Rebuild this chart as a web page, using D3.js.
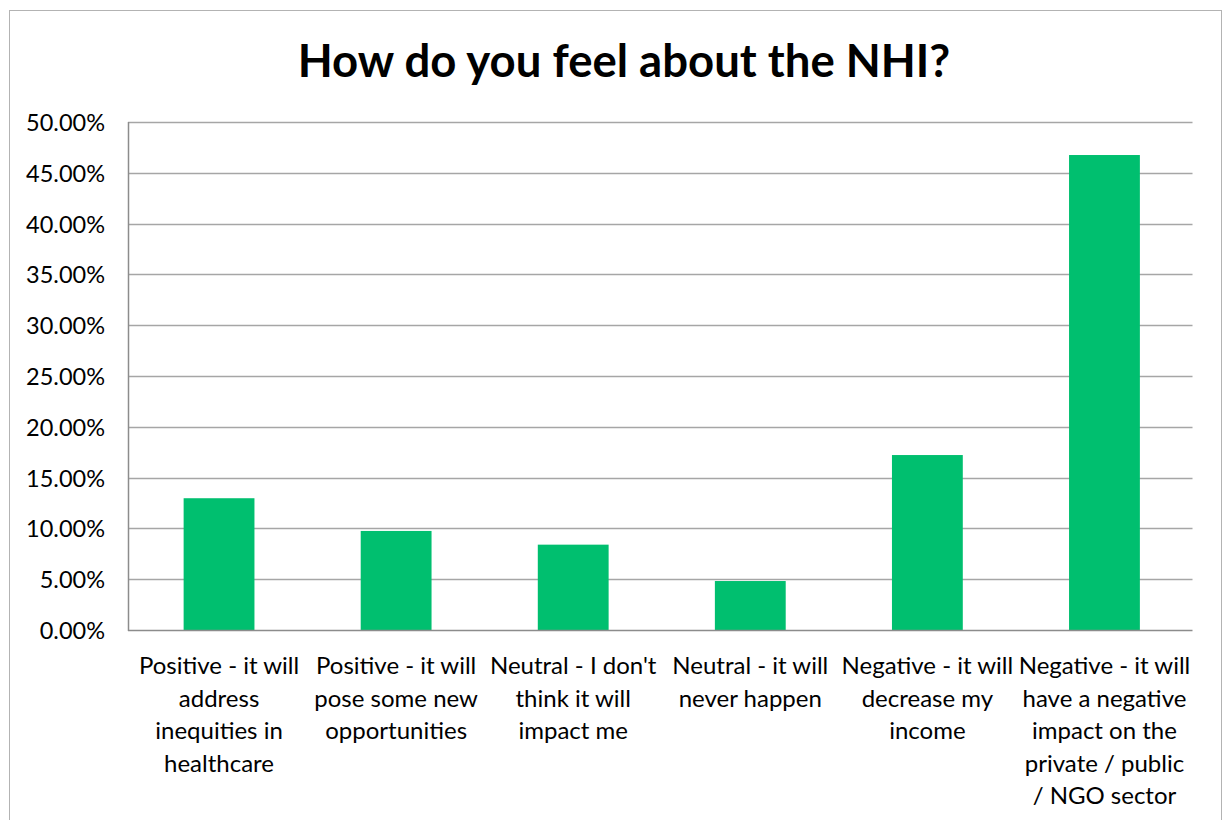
<!DOCTYPE html>
<html>
<head>
<meta charset="utf-8">
<script src="https://cdn.jsdelivr.net/npm/d3@7"></script>
<style>
  html, body { margin: 0; padding: 0; background: #fff; }
  svg { display: block; }
</style>
</head>
<body>
<svg id="chart" width="1224" height="820"></svg>
<script>
// ---- data ----
const title = "How do you feel about the NHI?";
const categories = [
  "Positive - it will\naddress\ninequities in\nhealthcare",
  "Positive - it will\npose some new\nopportunities",
  "Neutral - I don't\nthink it will\nimpact me",
  "Neutral - it will\nnever happen",
  "Negative - it will\ndecrease my\nincome",
  "Negative - it will\nhave a negative\nimpact on the\nprivate / public\n/ NGO sector"
];
const values = [0.1297, 0.0975, 0.0840, 0.0482, 0.1722, 0.4675];
const yTicks = [0, 0.05, 0.10, 0.15, 0.20, 0.25, 0.30, 0.35, 0.40, 0.45, 0.50];

// ---- layout ----
const plot = { left: 128, right: 1192.5, top: 122, bottom: 630 };
const band = { left: 130.5, right: 1193 };
const font = "Lato, 'Open Sans', sans-serif";

const svg = d3.select("#chart");

// outer chart border
svg.append("rect")
  .attr("x", 9.5).attr("y", 10.5)
  .attr("width", 1212).attr("height", 830)
  .attr("fill", "#fff").attr("stroke", "#b3b3b3").attr("stroke-width", 1);

const x = d3.scaleBand()
  .domain(d3.range(categories.length))
  .range([band.left, band.right])
  .paddingInner(0.6).paddingOuter(0.3);

const y = d3.scaleLinear().domain([0, 0.5]).range([plot.bottom, plot.top]);

// gridlines
svg.append("g")
  .selectAll("line")
  .data(yTicks.filter(d => d > 0))
  .join("line")
  .attr("x1", plot.left).attr("x2", plot.right)
  .attr("y1", d => Math.round(y(d)) + 0.5).attr("y2", d => Math.round(y(d)) + 0.5)
  .attr("stroke", "#a6a6a6").attr("stroke-width", 1.5);

// y axis labels
const yAxis = d3.axisLeft(y).tickValues(yTicks)
  .tickFormat(d => (d * 100).toFixed(2) + "%")
  .tickSize(0).tickPadding(23);
const gy = svg.append("g").attr("transform", `translate(${plot.left},0)`).call(yAxis);
gy.select(".domain").remove();
gy.selectAll("text")
  .attr("font-family", font).attr("font-size", 23.5).attr("fill", "#000")
  .attr("dy", "0.36em");

// bars
svg.append("g")
  .selectAll("rect")
  .data(values)
  .join("rect")
  .attr("x", (d, i) => x(i))
  .attr("width", x.bandwidth())
  .attr("y", d => y(d))
  .attr("height", d => y(0) - y(d))
  .attr("fill", "#00bf6f");

// axis lines
svg.append("line")
  .attr("x1", plot.left + 0.5).attr("x2", plot.left + 0.5)
  .attr("y1", plot.top).attr("y2", plot.bottom + 1)
  .attr("stroke", "#8c8c8c").attr("stroke-width", 1.5);
svg.append("line")
  .attr("x1", plot.left).attr("x2", plot.right)
  .attr("y1", plot.bottom + 0.5).attr("y2", plot.bottom + 0.5)
  .attr("stroke", "#8c8c8c").attr("stroke-width", 1.5);

// category labels
const cat = svg.append("g")
  .selectAll("text")
  .data(categories)
  .join("text")
  .attr("text-anchor", "middle")
  .attr("font-family", font).attr("font-size", 24).attr("fill", "#000")
  .attr("transform", (d, i) => `translate(${x(i) + x.bandwidth() / 2},674)`);
cat.each(function(d) {
  const t = d3.select(this);
  d.split("\n").forEach((line, k) => {
    t.append("tspan").attr("x", 0).attr("y", k * 32.6).text(line);
  });
});

// title
svg.append("text")
  .attr("x", 624).attr("y", 77)
  .attr("text-anchor", "middle")
  .attr("font-family", font).attr("font-weight", "bold")
  .attr("font-size", 45.5).attr("fill", "#000")
  .text(title);
</script>
</body>
</html>
